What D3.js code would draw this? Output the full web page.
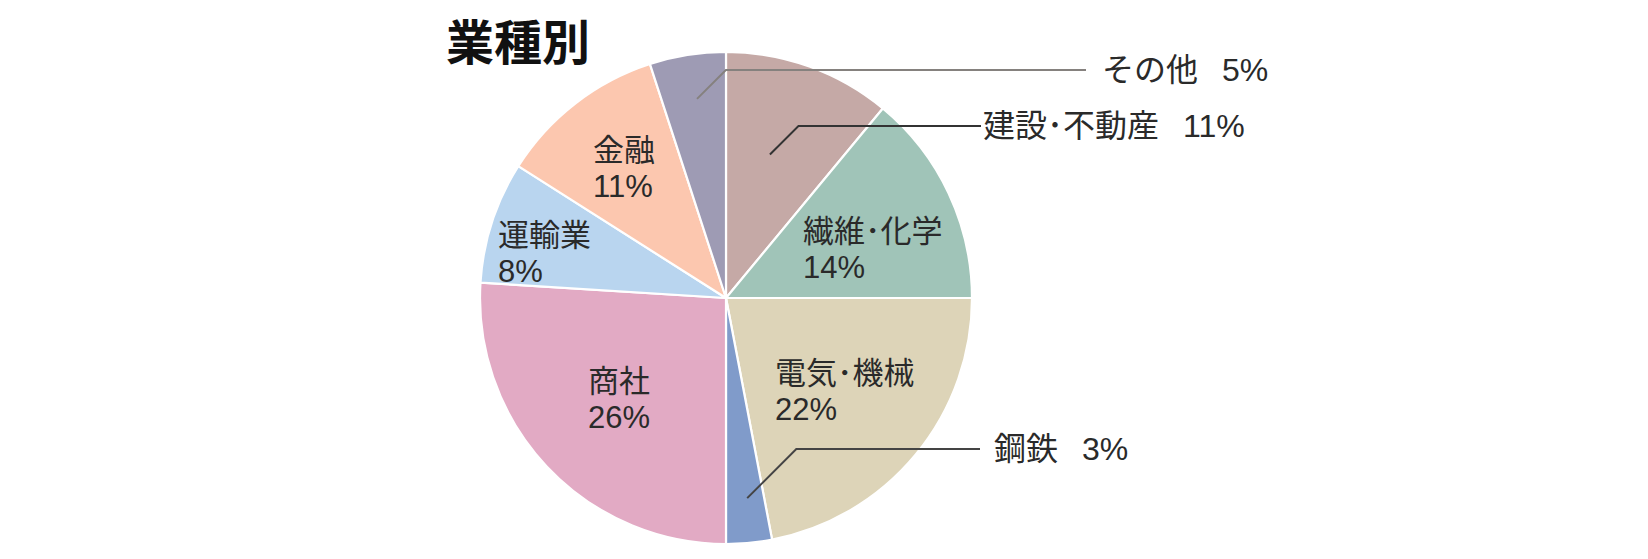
<!DOCTYPE html>
<html>
<head>
<meta charset="utf-8">
<script src="https://cdn.jsdelivr.net/npm/d3@7"></script>
<style>
	body { margin: 0; background: #fff; }
	text { font-family: "Liberation Sans", "Noto Sans CJK JP", sans-serif; fill: #2a2a2a; }
	.title { font-family: "Noto Sans CJK JP", sans-serif; }
</style>
</head>
<body>
<div id="chart"></div>
<script>
// data, clockwise from 12 o'clock
const title = "業種別";
const categories = ["建設･不動産", "繊維･化学", "電気･機械", "鋼鉄", "商社", "運輸業", "金融", "その他"];
const shares = [11, 14, 22, 3, 26, 8, 11, 5];
const sliceColors = ["#c5a9a6", "#a0c4b8", "#ddd4b8", "#809bca", "#e2aac4", "#b9d5ef", "#fcc7af", "#9e9bb4"];

// layout
const width = 1648, height = 559;
const cx = 726, cy = 298, radius = 246;
const innerFont = 31, outerFont = 32, lineGap = 36;

// labels drawn inside the slice: left x, first baseline (relative to pie centre)
const innerLabels = {
	"繊維･化学": [77, -56],
	"電気･機械": [49, 86],
	"商社": [-138, 94],
	"運輸業": [-228, -52],
	"金融": [-133, -137]
};

// labels with a leader line: angle fraction in slice, radius fraction, line y, line end x, text x, colour
const outerLabels = {
	"その他": { af: 0.54, rf: 0.818, y: -228, endX: 1086, textX: 1102, stroke: "#85817e" },
	"建設･不動産": { af: 0.43, rf: 0.61, y: -172, endX: 981, textX: 983, stroke: "#333" },
	"鋼鉄": { af: 0.44, rf: 0.818, y: 151, endX: 980, textX: 994, stroke: "#444" }
};

const svg = d3.select("#chart").append("svg")
	.attr("width", width)
	.attr("height", height);

svg.append("rect")
	.attr("width", width)
	.attr("height", height)
	.attr("fill", "#fff");

svg.append("text")
	.attr("class", "title")
	.attr("x", 446)
	.attr("y", 60)
	.style("font-size", "48px")
	.style("font-weight", "bold")
	.style("fill", "#111")
	.text(title);

const data = categories.map(function(c, i) {
	return { name: c, value: shares[i], color: sliceColors[i] };
});

const pie = d3.pie()
	.sort(null)
	.value(function(d) { return d.value; });

const arc = d3.arc()
	.innerRadius(0)
	.outerRadius(radius);

const arcs = pie(data);

const g = svg.append("g")
	.attr("transform", "translate(" + cx + "," + cy + ")");

g.selectAll("path.slice")
	.data(arcs)
	.enter().append("path")
	.attr("class", "slice")
	.attr("d", arc)
	.attr("fill", function(d) { return d.data.color; })
	.attr("stroke", "#fff")
	.attr("stroke-width", 2.2)
	.attr("stroke-linejoin", "round");

// inside labels, name and share on two lines
arcs.forEach(function(d) {
	var pos = innerLabels[d.data.name];
	if (!pos) return;
	g.append("text")
		.attr("x", pos[0])
		.attr("y", pos[1])
		.style("font-size", innerFont + "px")
		.text(d.data.name);
	g.append("text")
		.attr("x", pos[0])
		.attr("y", pos[1] + lineGap)
		.style("font-size", innerFont + "px")
		.text(d.data.value + "%");
});

// leader lines and outside labels
arcs.forEach(function(d) {
	var o = outerLabels[d.data.name];
	if (!o) return;
	var a = d.startAngle + o.af * (d.endAngle - d.startAngle);
	var r = o.rf * radius;
	var sx = Math.sin(a) * r, sy = -Math.cos(a) * r;
	var ex = sx + Math.abs(sy - o.y);

	g.append("path")
		.attr("d", d3.line()([[sx, sy], [ex, o.y], [o.endX - cx, o.y]]))
		.attr("fill", "none")
		.attr("stroke", o.stroke)
		.attr("stroke-width", 2);

	var t = g.append("text")
		.attr("x", o.textX - cx)
		.attr("y", o.y + 11)
		.style("font-size", outerFont + "px");
	t.append("tspan").text(d.data.name);
	t.append("tspan").attr("dx", 24).text(d.data.value + "%");
});
</script>
</body>
</html>
